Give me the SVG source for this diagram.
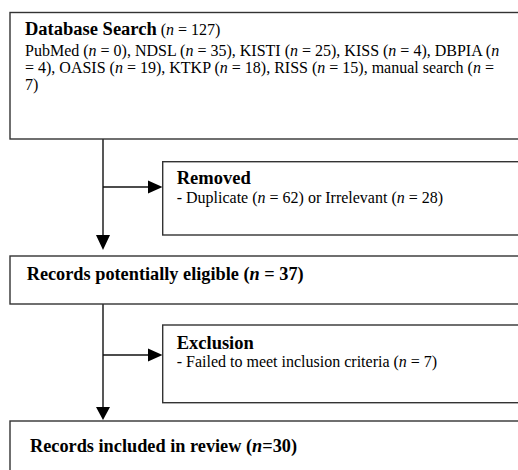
<svg xmlns="http://www.w3.org/2000/svg" width="518" height="470" viewBox="0 0 518 470">
<style>
.box{fill:#fff;stroke:#333;stroke-width:1.4}
.ln{stroke:#111;stroke-width:1.4;fill:none}
.ah{fill:#000}
text{font-family:"Liberation Serif","Times New Roman",serif;fill:#000}
.b{font-weight:bold}
.t{font-size:16px}
.h{font-size:18.5px}
.r{font-size:18.3px}
.i{font-style:italic}
</style>
<rect width="518" height="470" fill="#fff"/>
<g id="connectors">
<line class="ln" x1="103" y1="139" x2="103" y2="236"/>
<polygon class="ah" points="96,235 110,235 103,250"/>
<line class="ln" x1="103" y1="187" x2="149" y2="187"/>
<polygon class="ah" points="148,180.5 148,193.5 162.5,187"/>
<line class="ln" x1="103" y1="304" x2="103" y2="408"/>
<polygon class="ah" points="96,407 110,407 103,420"/>
<line class="ln" x1="103" y1="355" x2="149" y2="355"/>
<polygon class="ah" points="148,348.5 148,361.5 162.5,355"/>
</g>
<g id="database-search">
<rect class="box" x="10" y="12.5" width="520" height="126.5"/>
<text x="25" y="35"><tspan class="b h">Database Search</tspan><tspan class="t"> (<tspan class="i">n</tspan> = 127)</tspan></text>
<text class="t" x="25" y="56">PubMed (<tspan class="i">n</tspan> = 0), NDSL (<tspan class="i">n</tspan> = 35), KISTI (<tspan class="i">n</tspan> = 25), KISS (<tspan class="i">n</tspan> = 4), DBPIA (<tspan class="i">n</tspan></text>
<text class="t" x="25" y="73">= 4), OASIS (<tspan class="i">n</tspan> = 19), KTKP (<tspan class="i">n</tspan> = 18), RISS (<tspan class="i">n</tspan> = 15), manual search (<tspan class="i">n</tspan> =</text>
<text class="t" x="25" y="90">7)</text>
</g>
<g id="removed">
<rect class="box" x="162.7" y="161.7" width="370" height="73.3"/>
<text class="b h" x="176.7" y="184">Removed</text>
<text class="t" x="176.7" y="203">- Duplicate (<tspan class="i">n</tspan> = 62) or Irrelevant (<tspan class="i">n</tspan> = 28)</text>
</g>
<g id="eligible">
<rect class="box" x="10" y="256" width="520" height="48"/>
<text class="b r" x="26.7" y="280">Records potentially eligible (<tspan class="i">n</tspan> = 37)</text>
</g>
<g id="exclusion">
<rect class="box" x="162.7" y="325" width="370" height="77.7"/>
<text class="b h" x="176.7" y="349">Exclusion</text>
<text class="t" x="176.7" y="367">- Failed to meet inclusion criteria (<tspan class="i">n</tspan> = 7)</text>
</g>
<g id="included">
<rect class="box" x="10" y="421" width="520" height="60"/>
<text class="b r" x="30" y="452">Records included in review (<tspan class="i">n</tspan>=30)</text>
</g>
</svg>
